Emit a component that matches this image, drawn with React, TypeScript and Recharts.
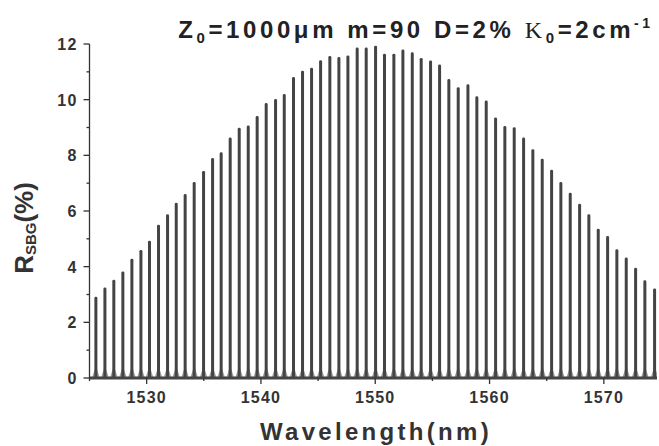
import { BarChart, Bar, XAxis, YAxis } from 'recharts';

// peak centres (nm) and peak reflectivity (%)
const WAVELENGTH = [
  1525.54, 1526.33, 1527.11, 1527.9, 1528.69, 1529.48, 1530.23, 1531.02, 1531.81, 1532.57,
  1533.35, 1534.14, 1534.96, 1535.75, 1536.5, 1537.29, 1538.08, 1538.87, 1539.65, 1540.44,
  1541.26, 1542.02, 1542.83, 1543.62, 1544.41, 1545.2, 1546.01, 1546.8, 1547.59, 1548.4,
  1549.19, 1550.01, 1550.79, 1551.61, 1552.4, 1553.22, 1554.0, 1554.82, 1555.61, 1556.42,
  1557.24, 1558.09, 1558.87, 1559.69, 1560.51, 1561.32, 1562.14, 1562.96, 1563.77, 1564.59,
  1565.41, 1566.22, 1567.04, 1567.86, 1568.67, 1569.49, 1570.31, 1571.12, 1571.94, 1572.76,
  1573.57, 1574.42,
];
const REFLECTIVITY = [
  2.92, 3.25, 3.53, 3.83, 4.28, 4.6, 4.93, 5.51, 5.88, 6.3,
  6.61, 7.04, 7.44, 7.9, 8.11, 8.64, 8.99, 9.07, 9.41, 9.88,
  10.02, 10.2, 10.81, 11.04, 11.15, 11.42, 11.57, 11.53, 11.59, 11.87,
  11.87, 11.94, 11.65, 11.65, 11.8, 11.7, 11.5, 11.41, 11.26, 10.74,
  10.45, 10.55, 10.12, 9.97, 9.36, 9.05, 9.01, 8.64, 8.22, 7.88,
  7.48, 7.04, 6.66, 6.26, 5.88, 5.36, 5.1, 4.63, 4.33, 3.96,
  3.51, 3.22,
];
const X_TICKS = [1525, 1530, 1535, 1540, 1545, 1550, 1555, 1560, 1565, 1570];
const Y_TICKS = [0, 1, 2, 3, 4, 5, 6, 7, 8, 9, 10, 11, 12];

const data = WAVELENGTH.map((w, i) => ({ w, r: REFLECTIVITY[i] }));

const FONT = '"Liberation Sans", Arial, sans-serif';
const INK = '#333';

function XTick({ x, y, payload }: any) {
  const major = payload.value % 10 === 0;
  return (
    <g>
      <line x1={x} x2={x} y1={y} y2={y + (major ? 6 : 3)} stroke={INK} strokeWidth={1.3} />
      {major && (
        <text x={x} y={y + 25} textAnchor="middle" fontSize={16} fontWeight="bold" letterSpacing={1.2} fill={INK} fontFamily={FONT}>
          {payload.value}
        </text>
      )}
    </g>
  );
}

function YTick({ x, y, payload }: any) {
  const major = payload.value % 2 === 0;
  return (
    <g>
      <line x1={x} x2={x - (major ? 6 : 3)} y1={y} y2={y} stroke={INK} strokeWidth={1.3} />
      {major && (
        <text x={x - 12} y={y + 6} textAnchor="end" fontSize={16} fontWeight="bold" letterSpacing={1.2} fill={INK} fontFamily={FONT}>
          {payload.value}
        </text>
      )}
    </g>
  );
}

function XLabel() {
  return (
    <text x={376} y={440} textAnchor="middle" fontSize={24} fontWeight="bold" letterSpacing={3.3} fill={INK} fontFamily={FONT}>
      Wavelength(nm)
    </text>
  );
}

function YLabel() {
  return (
    <text transform="translate(33,228) rotate(-90)" textAnchor="middle" fontSize={26} fontWeight="bold" fill={INK} fontFamily={FONT}>
      R<tspan fontSize={15} dy={3}>SBG</tspan>
      <tspan dy={-3}>(%)</tspan>
    </text>
  );
}

function Peak(props: any) {
  const { x, y, width, height } = props;
  if (!height || height <= 0) return null;
  const cx = x + width / 2;
  const bottom = y + height;
  return (
    <g>
      <path d={`M${cx - 4},${bottom} L${cx},${bottom - 12} L${cx + 4},${bottom} Z`} fill="#999" />
      <rect x={x} y={y} width={width} height={height} rx={1.4} fill="#444" />
    </g>
  );
}

export default function App() {
  return (
    <div style={{ position: 'absolute', left: 0, top: 0, width: 659, height: 446, background: '#fff', overflow: 'hidden' }}>
      <BarChart width={659} height={446} data={data} margin={{ top: 44, right: 2, left: 0, bottom: 0 }}>
        <XAxis
          dataKey="w"
          type="number"
          domain={[1525, 1574.65]}
          allowDataOverflow
          ticks={X_TICKS}
          interval={0}
          height={68}
          tickSize={0}
          tickMargin={0}
          tickLine={false}
          tick={<XTick />}
          axisLine={{ stroke: '#444', strokeWidth: 3 }}
          label={<XLabel />}
        />
        <YAxis
          type="number"
          domain={[0, 12]}
          ticks={Y_TICKS}
          interval={0}
          width={89.5}
          tickSize={0}
          tickMargin={0}
          tickLine={false}
          tick={<YTick />}
          axisLine={{ stroke: INK, strokeWidth: 1.3 }}
          label={<YLabel />}
        />
        <Bar dataKey="r" barSize={3} fill="#444" shape={<Peak />} isAnimationActive={false} />
      </BarChart>
      <svg style={{ position: 'absolute', left: 0, top: 0 }} width={659} height={60}>
        <text x={416} y={38} textAnchor="middle" fontSize={24} fontWeight="bold" letterSpacing={3.6} fill="#222" fontFamily={FONT}>
          Z<tspan fontSize={15} dy={5}>0</tspan>
          <tspan dy={-5}>=1000μm m=90 D=2% </tspan>
          <tspan fontFamily='"Liberation Serif", serif' fontWeight="normal">K</tspan>
          <tspan fontSize={15} dy={5}>0</tspan>
          <tspan dy={-5}>=2cm</tspan>
          <tspan fontSize={14} dy={-10}>-1</tspan>
        </text>
      </svg>
    </div>
  );
}
